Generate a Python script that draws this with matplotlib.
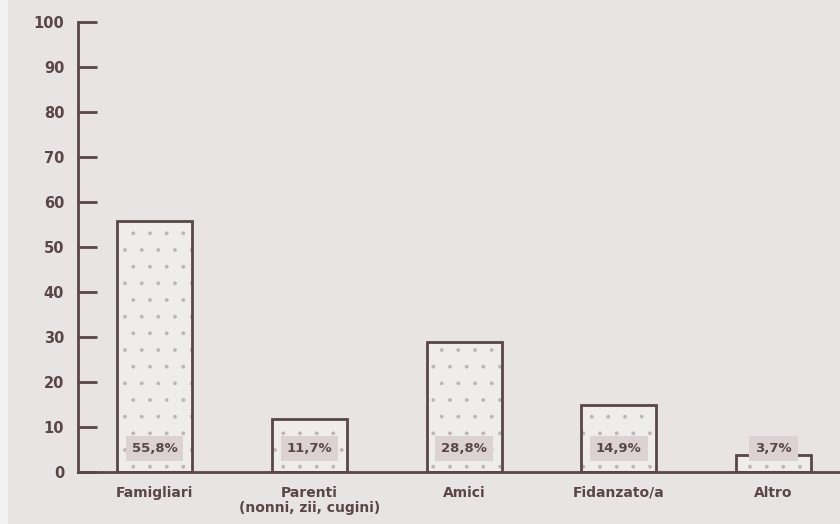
import matplotlib
matplotlib.use("Agg")
import matplotlib.pyplot as plt
from matplotlib.patches import Rectangle

categories = ["Famigliari", "Parenti\n(nonni, zii, cugini)", "Amici", "Fidanzato/a", "Altro"]
values = [55.8, 11.7, 28.8, 14.9, 3.7]
labels = ["55,8%", "11,7%", "28,8%", "14,9%", "3,7%"]
yticks = list(range(0, 101, 10))

BG = "#e8e4e3"
INK = "#5a4547"
LABEL_BOX = "#dbd2d1"

plt.rcParams["font.family"] = ["DejaVu Sans"]
plt.rcParams["hatch.linewidth"] = 0.3

fig = plt.figure(figsize=(8.4, 5.24), dpi=100, facecolor=BG)
fig.patches.append(Rectangle((0, 0), 0.01, 1, transform=fig.transFigure,
                             facecolor="#f2f0f0", edgecolor="none", zorder=0))
ax = fig.add_axes([0.0929, 0.0992, 0.9071, 0.8588])
ax.set_facecolor(BG)

x = list(range(len(values)))
# dotted fill first, then the outline on top
ax.bar(x, values, width=0.485, color="#efecec", edgecolor="#bfb3b3",
       linewidth=0, hatch=".", zorder=2)
ax.bar(x, values, width=0.485, fill=False, edgecolor=INK, linewidth=2, zorder=3)

for xi, lab in zip(x, labels):
    ax.text(xi, 5.3, lab, ha="center", va="center", fontsize=9.5, fontweight="bold",
            color=INK, zorder=4,
            bbox=dict(boxstyle="square,pad=0.45", facecolor=LABEL_BOX, edgecolor="none"))

ax.set_xlim(-0.495, 4.43)
ax.set_ylim(0, 100)
ax.set_yticks(yticks)
ax.set_xticks(x)
ax.set_xticklabels(categories, fontsize=10, fontweight="bold", color=INK, linespacing=1.1)
ax.tick_params(axis="x", length=0, pad=10)
ax.tick_params(axis="y", direction="in", length=14, width=2, color=INK, pad=10,
               labelsize=10.5, labelcolor=INK)
for lbl in ax.get_yticklabels():
    lbl.set_fontweight("bold")

for side in ("top", "right"):
    ax.spines[side].set_visible(False)
for side in ("left", "bottom"):
    ax.spines[side].set_color(INK)
    ax.spines[side].set_linewidth(2)

fig.savefig("out.png", dpi=100, facecolor=BG)
